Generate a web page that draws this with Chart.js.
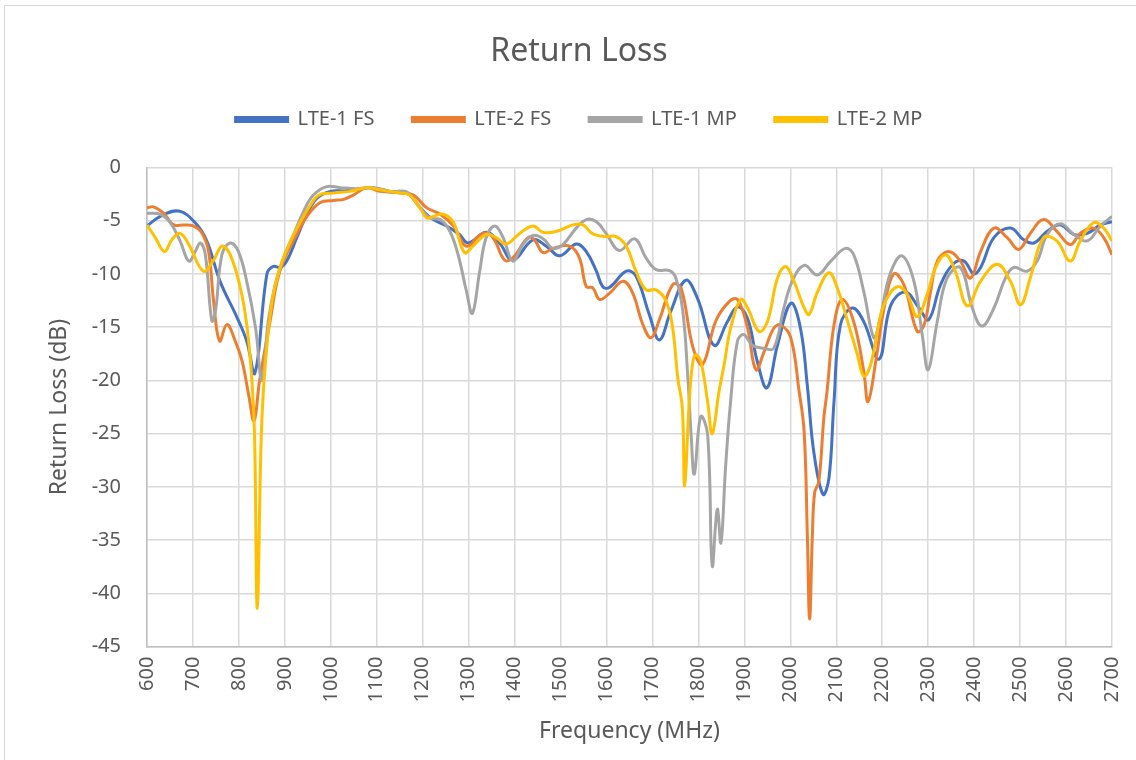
<!DOCTYPE html>
<html>
<head>
<meta charset="utf-8">
<script src="https://cdn.jsdelivr.net/npm/chart.js@4"></script>
<style>
    body { margin: 0; background: #fff; overflow: hidden; }
    #frame {
        position: absolute; left: 4px; top: 5px; width: 1140px; height: 760px;
        border-left: 1px solid #d9d9d9; border-top: 1px solid #d9d9d9;
    }
    #chart { position: absolute; left: 0; top: 0; }
</style>
</head>
<body>
<div id="frame"><canvas id="chart" width="1131" height="754"></canvas></div>
<script>
// frequency (MHz) / return loss (dB)
const lte1FsFreq = [600, 629, 669, 705, 730, 759, 796, 817, 835, 861, 875, 890, 904, 926, 948, 970, 999, 1035, 1086, 1129, 1165, 1201, 1223, 1252, 1280, 1299, 1338, 1367, 1396, 1440, 1469, 1498, 1534, 1556, 1578, 1592, 1607, 1643, 1664, 1693, 1715, 1740, 1772, 1798, 1834, 1863, 1885, 1907, 1928, 1949, 1972, 2001, 2022, 2037, 2051, 2071, 2084, 2095, 2109, 2135, 2160, 2193, 2218, 2250, 2280, 2301, 2327, 2356, 2378, 2399, 2414, 2443, 2479, 2508, 2530, 2559, 2588, 2617, 2646, 2675, 2700];
const lte1FsVals = [-5.5, -4.6, -4.1, -5.2, -6.9, -10.7, -14.1, -16.3, -19.3, -10, -9.3, -9.4, -8.8, -6.6, -4.4, -2.9, -2.25, -2.2, -1.9, -2.25, -2.4, -4.1, -4.9, -5.5, -6.3, -7.1, -6.1, -7.1, -8.7, -6.8, -7.4, -8.3, -7.2, -7.9, -9.75, -11.2, -11.25, -9.75, -10.2, -13.8, -16.2, -13.5, -10.6, -12.3, -16.7, -14.5, -13.1, -14.2, -18.2, -20.7, -16.7, -12.75, -15.1, -20.5, -26.7, -30.7, -29.2, -22, -14.8, -13.2, -14.5, -18, -13, -11.7, -13.2, -14.3, -11, -9, -8.8, -10, -9.4, -6.6, -5.7, -6.8, -7.1, -6, -5.4, -6.3, -6.2, -5.4, -5.1];

const lte2FsFreq = [600, 614, 636, 658, 680, 701, 720, 734, 745, 758, 774, 792, 807, 821, 833, 845, 868, 883, 897, 926, 948, 977, 1006, 1028, 1049, 1078, 1107, 1151, 1180, 1209, 1238, 1267, 1295, 1331, 1353, 1378, 1396, 1429, 1443, 1462, 1483, 1520, 1541, 1556, 1570, 1585, 1607, 1636, 1657, 1679, 1697, 1715, 1744, 1762, 1788, 1809, 1838, 1867, 1885, 1907, 1925, 1943, 1964, 1979, 2001, 2019, 2030, 2037, 2042, 2048, 2053, 2062, 2073, 2080, 2095, 2113, 2138, 2160, 2169, 2186, 2204, 2225, 2247, 2276, 2291, 2305, 2320, 2345, 2370, 2392, 2414, 2443, 2472, 2497, 2522, 2551, 2580, 2609, 2631, 2660, 2682, 2700];
const lte2FsVals = [-3.8, -3.7, -4.3, -5.4, -5.4, -5.5, -6.2, -7.9, -12.6, -16.3, -14.75, -16.3, -18.2, -21.3, -23.8, -20, -14.4, -10.7, -8.8, -6.3, -4.6, -3.3, -3.1, -3, -2.6, -1.9, -2.25, -2.4, -2.6, -3.8, -4.4, -5.5, -7.4, -6.2, -6.6, -8.7, -8.5, -6.6, -6.8, -8, -7.6, -7.4, -8.5, -11.2, -11.3, -12.4, -11.8, -10.7, -11.8, -14.75, -16, -14.3, -11, -11.3, -16.9, -18.5, -14.4, -12.6, -12.4, -15.1, -19, -17.3, -15.1, -14.8, -16, -21, -24.8, -34.5, -42.4, -34.5, -30.5, -29.5, -23.5, -21, -14.8, -12.4, -14.5, -19.2, -22, -18.2, -13.2, -10, -11, -15.4, -14.8, -11.7, -8.8, -7.9, -8.8, -10.4, -7.9, -5.7, -6.6, -7.7, -6.2, -4.9, -6, -7.25, -6.2, -5.7, -6.6, -8.2];

const lte1MpFreq = [600, 629, 651, 672, 691, 705, 716, 727, 741, 749, 763, 781, 799, 817, 836, 850, 864, 879, 897, 919, 941, 962, 991, 1020, 1056, 1093, 1129, 1165, 1194, 1216, 1238, 1259, 1277, 1295, 1308, 1324, 1338, 1357, 1375, 1396, 1418, 1440, 1462, 1483, 1505, 1534, 1556, 1578, 1599, 1628, 1661, 1686, 1708, 1737, 1751, 1766, 1777, 1784, 1791, 1805, 1820, 1830, 1841, 1849, 1859, 1870, 1885, 1899, 1917, 1943, 1964, 1986, 2004, 2030, 2059, 2088, 2120, 2138, 2160, 2182, 2196, 2218, 2243, 2269, 2287, 2300, 2320, 2341, 2370, 2396, 2417, 2443, 2468, 2486, 2515, 2537, 2559, 2588, 2617, 2646, 2675, 2700];
const lte1MpVals = [-4.3, -4.4, -5.2, -6.9, -8.8, -7.9, -7.1, -8.2, -14.4, -13.5, -8.2, -7.1, -7.9, -10.7, -15, -20, -14.4, -11, -8.5, -6.3, -4.1, -2.6, -1.8, -1.9, -2, -1.9, -2.3, -2.3, -3.8, -4.75, -4.9, -6, -8.2, -11.6, -13.7, -9.75, -6.6, -5.5, -6.6, -8.8, -7.25, -6.4, -6.7, -7.6, -7.25, -5.7, -4.9, -5.1, -6.2, -7.8, -6.7, -8.5, -9.6, -9.7, -10.4, -13.5, -19.75, -25, -28.8, -23.4, -25.1, -37.4, -32.1, -35.25, -28.2, -22, -16.3, -15.7, -16.7, -17, -17, -13.2, -10.7, -9.2, -10.1, -8.8, -7.6, -8.2, -11.7, -16, -14, -9.9, -8.3, -10.7, -15.7, -19, -14.4, -10.4, -9.4, -13.2, -14.9, -13.2, -10.4, -9.4, -9.75, -8.8, -6.3, -5.3, -6.3, -6.9, -5.5, -4.6];

const lte2MpFreq = [600, 618, 638, 654, 672, 691, 723, 745, 763, 781, 803, 817, 828, 834, 840, 849, 858, 872, 887, 909, 930, 952, 974, 1006, 1042, 1078, 1107, 1151, 1172, 1194, 1209, 1223, 1245, 1267, 1291, 1309, 1338, 1360, 1382, 1411, 1440, 1462, 1491, 1527, 1549, 1570, 1599, 1621, 1643, 1664, 1686, 1708, 1730, 1744, 1755, 1765, 1770, 1780, 1787, 1794, 1805, 1820, 1830, 1845, 1856, 1870, 1892, 1907, 1932, 1950, 1972, 1990, 2008, 2030, 2041, 2059, 2084, 2102, 2125, 2146, 2160, 2175, 2196, 2211, 2233, 2254, 2276, 2298, 2316, 2338, 2359, 2385, 2414, 2450, 2479, 2501, 2522, 2551, 2580, 2609, 2631, 2660, 2682, 2700];
const lte2MpVals = [-5.4, -6.6, -7.9, -6.8, -6.2, -7.25, -9.75, -8.7, -7.4, -8.2, -11.3, -14.75, -19.75, -25.1, -41.4, -24.8, -18.2, -12.6, -9.75, -7.25, -5.4, -3.8, -2.6, -2.4, -2.25, -1.9, -2.1, -2.4, -2.6, -3.8, -4.75, -4.6, -4.4, -5.2, -8, -7.4, -6.3, -6.6, -7.2, -6.2, -5.5, -6.1, -6, -5.4, -5.4, -6.25, -6.5, -6.5, -7.4, -9.75, -11.5, -11.5, -12.6, -15.1, -19.75, -22.6, -29.9, -22, -18.5, -17.6, -18.2, -22, -25, -21, -18.5, -15.1, -12.4, -13.2, -15.4, -14.5, -10.4, -9.3, -10.7, -13.2, -13.8, -11.7, -9.9, -11.3, -14.5, -17.6, -19.6, -18.5, -14, -12.25, -11.2, -11.9, -14, -11.9, -9.4, -8.2, -9.75, -13, -10.7, -9.1, -10.7, -12.9, -10.4, -6.6, -6.9, -8.8, -6.9, -5.2, -5.7, -6.9];

const seriesNames = ['LTE-1 FS', 'LTE-2 FS', 'LTE-1 MP', 'LTE-2 MP'];
const seriesColors = ['#4472C4', '#ED7D31', '#A5A5A5', '#FFC000'];
const freqs = [lte1FsFreq, lte2FsFreq, lte1MpFreq, lte2MpFreq];
const vals = [lte1FsVals, lte2FsVals, lte1MpVals, lte2MpVals];

const textColor = '#595959';
const font = 'Noto Sans';

// last series first so it is drawn on top (legend is reversed back)
const datasets = seriesNames.map((name, i) => ({
    label: name,
    data: freqs[i].map((f, j) => ({ x: f, y: vals[i][j] })),
    borderColor: seriesColors[i],
    backgroundColor: seriesColors[i],
    borderWidth: 3,
    pointRadius: 0,
    tension: 0.4,
    fill: false
})).reverse();

// extra space between legend and plot
const legendGap = {
    id: 'legendGap',
    beforeInit(chart) {
        const fit = chart.legend.fit;
        chart.legend.fit = function () {
            fit.bind(chart.legend)();
            this.height += 28;
        };
    }
};

new Chart(document.getElementById('chart'), {
    type: 'line',
    data: { datasets },
    plugins: [legendGap],
    options: {
        responsive: false,
        animation: false,
        layout: { padding: { left: 41, right: 24, top: 0, bottom: 15 } },
        plugins: {
            title: {
                display: true,
                text: 'Return Loss',
                color: textColor,
                font: { family: font, size: 32, weight: 'normal' },
                padding: { top: 27, bottom: 0 }
            },
            legend: {
                reverse: true,
                labels: {
                    color: textColor,
                    font: { family: font, size: 20 },
                    boxWidth: 52,
                    boxHeight: 4,
                    padding: 38
                }
            },
            tooltip: { enabled: false }
        },
        scales: {
            x: {
                type: 'linear',
                min: 600,
                max: 2700,
                afterFit(scale) {
                    scale.paddingLeft = 0;
                    scale.paddingRight = 0;
                },
                grid: { color: '#d9d9d9', lineWidth: 1.5, drawTicks: false },
                border: { color: '#bfbfbf', width: 1.5 },
                ticks: {
                    stepSize: 100,
                    minRotation: 90,
                    maxRotation: 90,
                    padding: 10,
                    color: textColor,
                    font: { family: font, size: 20 },
                    callback: v => String(v)
                },
                title: {
                    display: true,
                    text: 'Frequency (MHz)',
                    color: textColor,
                    font: { family: font, size: 23 },
                    padding: { top: 5, bottom: 0 }
                }
            },
            y: {
                min: -45,
                max: 0,
                afterFit(scale) {
                    scale.width = 101;
                },
                grid: { color: '#d9d9d9', lineWidth: 1.5, drawTicks: false },
                border: { color: '#bfbfbf', width: 1.5 },
                ticks: {
                    stepSize: 5,
                    padding: 26,
                    color: textColor,
                    font: { family: font, size: 20 }
                },
                title: {
                    display: true,
                    text: 'Return Loss (dB)',
                    color: textColor,
                    font: { family: font, size: 23 },
                    padding: { top: 0, bottom: 0 }
                }
            }
        }
    }
});
</script>
</body>
</html>
